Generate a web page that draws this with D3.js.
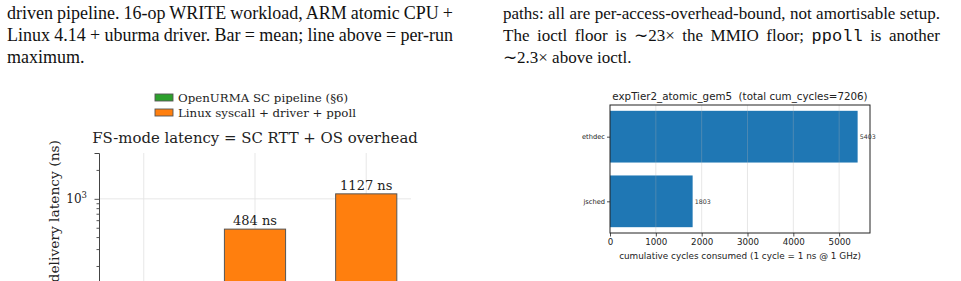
<!DOCTYPE html>
<html>
<head>
<meta charset="utf-8">
<script src="https://cdn.jsdelivr.net/npm/d3@7"></script>
<style>
  body { margin: 0; background: #fff; }
  svg { display: block; }
</style>
</head>
<body>
<div id="page"></div>
<script>
// ---- data ----
const leftTextLines = [
  "driven pipeline. 16-op WRITE workload, ARM atomic CPU +",
  "Linux 4.14 + uburma driver. Bar = mean; line above = per-run",
  "maximum."
];
const rightTextLines = [
  [["paths: all are per-access-overhead-bound, not amortisable setup.", "serif"]],
  [["The ioctl floor is \u223C23\u00D7 the MMIO floor; ", "serif"], ["ppoll", "mono"], [" is another", "serif"]],
  [["\u223C2.3\u00D7 above ioctl.", "serif"]]
];

const latencyCats = ["SC pipeline", "ioctl", "ppoll"];
const latencyMeans = [21, 484, 1127];
const latencyColors = ["#2ca02c", "#ff7f0e", "#ff7f0e"];
const legendLabels = ["OpenURMA SC pipeline (\u00A76)", "Linux syscall + driver + ppoll"];
const legendColors = ["#2ca02c", "#ff7f0e"];
const minorTicks = [20, 30, 40, 50, 60, 70, 80, 90, 200, 300, 400, 500, 600, 700, 800, 900, 2000, 3000];

const stageNames = ["ethdec", "jsched"];
const stageCycles = [5403, 1803];
const cycleTicks = [0, 1000, 2000, 3000, 4000, 5000];
const totalCycles = 7206;

const serif = "'DejaVu Serif', serif";
const sans = "'DejaVu Sans', sans-serif";
const paperFont = "'Liberation Serif', 'Times New Roman', serif";
const monoFont = "'Courier New', 'Liberation Mono', monospace";

const svg = d3.select("#page").append("svg")
  .attr("width", 961)
  .attr("height", 281);

svg.append("rect").attr("width", 961).attr("height", 281).attr("fill", "#fff");

// ---- paper text (justified lines) ----
function paperLine(x, y, parts, size, target) {
  const t = svg.append("text")
    .attr("x", x).attr("y", y)
    .attr("font-family", paperFont)
    .attr("font-size", size)
    .attr("fill", "#111")
    .style("white-space", "pre");
  parts.forEach(p => {
    t.append("tspan")
      .attr("font-family", p[1] === "mono" ? monoFont : paperFont)
      .attr("font-weight", p[1] === "mono" ? 300 : null)
      .text(p[0]);
  });
  if (target) {
    const natural = t.node().getComputedTextLength();
    const spaces = parts.map(p => p[0]).join("").split(" ").length - 1;
    t.style("word-spacing", ((target - natural) / spaces) + "px");
  }
}

leftTextLines.forEach((s, i) => {
  paperLine(7, 18.5 + i * 22, [[s, "serif"]], 18, i < 2 ? 446 : null);
});
rightTextLines.forEach((parts, i) => {
  paperLine(503, 18.5 + i * 22, parts, 17, i < 2 ? 437 : null);
});

// ---- left chart: FS-mode latency (log y) ----
const lx = d3.scaleLinear().domain([-0.4025, 2.4025]).range([99, 411]);
const ly = d3.scaleLog().domain([10, 3000]).range([391, 153]);
const barW = lx(0.55) - lx(0);

const left = svg.append("g");

left.selectAll("line.vgrid")
  .data(latencyCats)
  .enter().append("line")
  .attr("class", "vgrid")
  .attr("x1", (d, i) => lx(i)).attr("x2", (d, i) => lx(i))
  .attr("y1", ly.range()[1]).attr("y2", ly.range()[0])
  .attr("stroke", "#e4e4e4").attr("stroke-width", 0.9);

left.append("line")
  .attr("x1", 99).attr("x2", 411)
  .attr("y1", ly(1000)).attr("y2", ly(1000))
  .attr("stroke", "#e4e4e4").attr("stroke-width", 0.9);

left.selectAll("rect.bar")
  .data(latencyMeans)
  .enter().append("rect")
  .attr("class", "bar")
  .attr("x", (d, i) => lx(i) - barW / 2)
  .attr("width", barW)
  .attr("y", d => ly(d))
  .attr("height", d => ly(10) - ly(d))
  .attr("fill", (d, i) => latencyColors[i])
  .attr("stroke", "#555").attr("stroke-width", 1);

// value labels for the bars that reach the visible part of the figure
left.selectAll("text.val")
  .data(latencyMeans.map((v, i) => ({ v, i })).filter(d => d.v >= 100))
  .enter().append("text")
  .attr("class", "val")
  .attr("x", d => lx(d.i))
  .attr("y", d => ly(d.v) - 4)
  .attr("text-anchor", "middle")
  .attr("font-family", serif).attr("font-size", 13).attr("fill", "#222")
  .text(d => d.v + " ns");

// y axis: major + minor ticks
const majorAxis = left.append("g")
  .attr("transform", "translate(99,0)")
  .call(d3.axisLeft(ly).tickValues([1000]).tickSize(4.5).tickFormat(""));
const minorAxis = left.append("g")
  .attr("transform", "translate(99,0)")
  .call(d3.axisLeft(ly).tickValues(minorTicks).tickSize(2.5).tickFormat(""));
[majorAxis, minorAxis].forEach(a => {
  a.select(".domain").attr("stroke", "#444").attr("stroke-width", 1);
  a.selectAll(".tick line").attr("stroke", "#444").attr("stroke-width", 0.9);
});
minorAxis.select(".domain").remove();

const t3 = left.append("text")
  .attr("x", 87).attr("y", ly(1000) + 4.5)
  .attr("text-anchor", "end")
  .attr("font-family", serif).attr("font-size", 12).attr("fill", "#222");
t3.append("tspan").text("10");
t3.append("tspan").attr("font-size", 8.5).attr("dy", -5).text("3");

left.append("text")
  .attr("transform", "translate(58.5,140) rotate(-90)")
  .attr("text-anchor", "end")
  .attr("font-family", serif).attr("font-size", 13.8).attr("fill", "#222")
  .text("Message delivery latency (ns)");

left.append("text")
  .attr("x", 255).attr("y", 142.5)
  .attr("text-anchor", "middle")
  .attr("font-family", serif).attr("font-size", 14.9).attr("fill", "#222")
  .text("FS-mode latency = SC RTT + OS overhead");

const legend = left.selectAll("g.legend")
  .data(legendLabels)
  .enter().append("g")
  .attr("class", "legend")
  .attr("transform", (d, i) => "translate(155," + (94 + i * 15) + ")");
legend.append("rect")
  .attr("width", 18).attr("height", 7)
  .attr("fill", (d, i) => legendColors[i])
  .attr("stroke", "#555").attr("stroke-width", 0.9);
legend.append("text")
  .attr("x", 23).attr("y", 7.8)
  .attr("font-family", serif).attr("font-size", 11.8).attr("fill", "#222")
  .text(d => d);

// ---- right chart: cumulative cycles (horizontal bars) ----
const rx = d3.scaleLinear().domain([0, 5673]).range([610, 870]);
const ry = d3.scaleLinear().domain([-0.49, 1.49]).range([105, 233]);
const barH = ry(0.8) - ry(0);

const right = svg.append("g");

right.selectAll("rect.hbar")
  .data(stageCycles)
  .enter().append("rect")
  .attr("class", "hbar")
  .attr("x", rx(0))
  .attr("y", (d, i) => ry(i) - barH / 2)
  .attr("width", d => rx(d) - rx(0))
  .attr("height", barH)
  .attr("fill", "#1f77b4");

right.selectAll("line.grid")
  .data(cycleTicks.slice(1))
  .enter().append("line")
  .attr("class", "grid")
  .attr("x1", d => rx(d)).attr("x2", d => rx(d))
  .attr("y1", 105).attr("y2", 233)
  .attr("stroke", "#b0b0b0").attr("stroke-opacity", 0.35).attr("stroke-width", 0.9);

right.selectAll("text.hval")
  .data(stageCycles)
  .enter().append("text")
  .attr("class", "hval")
  .attr("x", d => rx(d) + 2)
  .attr("y", (d, i) => ry(i) + 2.3)
  .attr("font-family", sans).attr("font-size", 6.3).attr("fill", "#333")
  .text(d => d);

const xAxis = right.append("g")
  .attr("transform", "translate(0,233)")
  .call(d3.axisBottom(rx).tickValues(cycleTicks).tickSize(3.5).tickPadding(2)
    .tickFormat(d3.format("d")));
xAxis.select(".domain").remove();
xAxis.selectAll(".tick line").attr("stroke", "#222").attr("stroke-width", 0.8);
xAxis.selectAll(".tick text")
  .attr("font-family", sans).attr("font-size", 8.7).attr("fill", "#222");

const yAxis = right.append("g")
  .attr("transform", "translate(610,0)")
  .call(d3.axisLeft(ry).tickValues([0, 1]).tickSize(3).tickPadding(2)
    .tickFormat(i => stageNames[i]));
yAxis.select(".domain").remove();
yAxis.selectAll(".tick line").attr("stroke", "#222").attr("stroke-width", 0.8);
yAxis.selectAll(".tick text")
  .attr("font-family", sans).attr("font-size", 6.7).attr("fill", "#222");

right.append("rect")
  .attr("x", 610).attr("y", 105)
  .attr("width", 260).attr("height", 128)
  .attr("fill", "none").attr("stroke", "#222").attr("stroke-width", 1);

right.append("text")
  .attr("x", 740).attr("y", 100)
  .attr("text-anchor", "middle")
  .attr("font-family", sans).attr("font-size", 10.3).attr("fill", "#222")
  .style("white-space", "pre")
  .text("expTier2_atomic_gem5  (total cum_cycles=" + totalCycles + ")");

right.append("text")
  .attr("x", 740).attr("y", 259)
  .attr("text-anchor", "middle")
  .attr("font-family", sans).attr("font-size", 8.85).attr("fill", "#222")
  .text("cumulative cycles consumed (1 cycle = 1 ns @ 1 GHz)");
</script>
</body>
</html>
